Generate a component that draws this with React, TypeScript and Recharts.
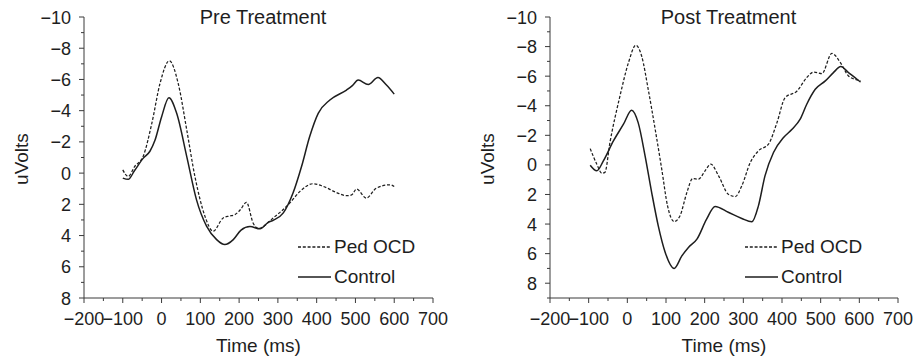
import React from 'react';
import { LineChart, Line, XAxis, YAxis, Legend } from 'recharts';

// Pre treatment (time in ms, amplitude in uV, negative plotted upward)
const preOcdTime = [-100, -86, -70, -47, -25, -4, 20, 43, 65, 86, 112, 133, 159, 175, 189, 203, 219, 236, 250, 288, 331, 357, 391, 417, 451, 477, 490, 503, 528, 554, 589, 600];
const preOcdVolts = [-0.21, 0.21, -0.4, -1.1, -3.2, -5.74, -7.19, -5.74, -2.76, 0.21, 2.77, 3.72, 2.87, 2.75, 2.66, 2.35, 1.87, 3.19, 3.55, 2.87, 1.91, 1.17, 0.68, 0.85, 1.24, 1.45, 1.4, 1.02, 1.6, 0.96, 0.75, 0.86];
const preControlTime = [-100, -86, -70, -47, -30, -17, 0, 19, 39, 65, 90, 116, 142, 163, 185, 205, 228, 254, 275, 288, 314, 339, 361, 382, 404, 434, 477, 492, 507, 533, 558, 580, 600];
const preControlVolts = [0.32, 0.4, -0.15, -0.96, -1.4, -2.1, -3.6, -4.83, -3.83, -1.06, 1.7, 3.4, 4.26, 4.58, 4.26, 3.65, 3.42, 3.57, 3.15, 3.02, 2.55, 1.28, -0.42, -2.34, -3.83, -4.68, -5.32, -5.6, -5.96, -5.68, -6.13, -5.64, -5.06];

// Post treatment
const postOcdTime = [-96, -79, -66, -58, -45, -19, 3, 22, 37, 54, 72, 89, 104, 121, 136, 154, 169, 184, 201, 216, 236, 261, 279, 296, 318, 339, 365, 387, 408, 439, 464, 482, 503, 529, 551, 572, 589, 603];
const postOcdVolts = [-1.1, -0.05, 0.56, 0.51, -1.51, -4.66, -6.92, -8.09, -7.36, -5.11, -2.41, 0.29, 2.77, 3.83, 3.45, 1.87, 0.92, 0.97, 0.4, -0.05, 0.74, 1.98, 2.14, 1.42, -0.16, -0.95, -1.4, -2.86, -4.55, -5.0, -5.9, -6.28, -6.17, -7.54, -6.92, -6.01, -5.79, -5.7];
const postControlTime = [-96, -79, -62, -36, -10, 11, 28, 46, 63, 80, 98, 121, 141, 158, 180, 205, 227, 261, 296, 322, 339, 356, 378, 404, 426, 447, 464, 486, 512, 533, 552, 572, 594, 603];
const postControlVolts = [0.02, 0.4, -0.27, -1.62, -2.75, -3.7, -2.86, -0.6, 1.87, 4.12, 5.92, 7.0, 6.15, 5.58, 5.02, 3.67, 2.81, 3.2, 3.62, 3.85, 2.77, 0.74, -0.84, -1.85, -2.41, -3.09, -4.1, -5.11, -5.68, -6.24, -6.65, -6.24, -5.79, -5.6];

const xTicks = [-200, -150, -100, -50, 0, 50, 100, 150, 200, 250, 300, 350, 400, 450, 500, 550, 600, 650, 700];
const preYTicks = [-10, -9, -8, -7, -6, -5, -4, -3, -2, -1, 0, 1, 2, 3, 4, 5, 6, 7, 8];
const postYTicks = [-10, -9, -8, -7, -6, -5, -4, -3, -2, -1, 0, 1, 2, 3, 4, 5, 6, 7, 8, 9];

const seriesNames = ['Ped OCD', 'Control'];

const FONT = "'Liberation Sans', Arial, Helvetica, sans-serif";
const NUM_FONT = "'Liberation Sans Narrow', 'Arial Narrow', 'Liberation Sans', Arial, sans-serif";
const INK = '#1e1e1e';
const AXIS = '#3a3a3a';
const DASH = '3 1.8';
const H = 361;

const zip = (t: number[], v: number[]) => t.map((x, i) => ({ t: x, v: v[i] }));
const signed = (n: number) => (n < 0 ? `\u2212${-n}` : `${n}`);

function YTick({ x, y, payload }: any) {
  const v = payload.value;
  const major = v % 2 === 0;
  return (
    <g>
      <line x1={x - (major ? 5 : 3)} x2={x} y1={y} y2={y} stroke={AXIS} />
      {major && (
        <text x={x - 13} y={y + 6.5} textAnchor="end" fontFamily={NUM_FONT} fontSize={18} fill={INK}>
          {signed(v)}
        </text>
      )}
    </g>
  );
}

function XTick({ x, y, payload }: any) {
  const v = payload.value;
  const major = v % 100 === 0;
  return (
    <g>
      <line x1={x} x2={x} y1={y} y2={y + (major ? 5 : 3)} stroke={AXIS} />
      {major && (
        <text x={x} y={y + 27} textAnchor="middle" fontFamily={NUM_FONT} fontSize={18} fill={INK}>
          {signed(v)}
        </text>
      )}
    </g>
  );
}

function XLabel({ cx }: any) {
  return (
    <text x={cx} y={352} textAnchor="middle" fontFamily={FONT} fontSize={19} fill={INK}>
      Time (ms)
    </text>
  );
}

function YLabel({ bx }: any) {
  return (
    <text x={bx} y={159} transform={`rotate(-90, ${bx}, 159)`} textAnchor="middle" fontFamily={FONT} fontSize={19} fill={INK}>
      uVolts
    </text>
  );
}

function LegendBox() {
  return (
    <div style={{ fontFamily: FONT, fontSize: 19, color: INK }}>
      {seriesNames.map((name, i) => (
        <div key={name} style={{ display: 'flex', alignItems: 'center', height: 30 }}>
          <svg width={33} height={4}>
            <line x1={0} x2={33} y1={2} y2={2} stroke={INK} strokeWidth={1.3} strokeDasharray={i === 0 ? DASH : undefined} />
          </svg>
          <span style={{ marginLeft: 3, lineHeight: '22px' }}>{name}</span>
        </div>
      ))}
    </div>
  );
}

interface PanelProps {
  title: string;
  ocd: { t: number; v: number }[];
  control: { t: number; v: number }[];
  yMax: number;
  yTicks: number[];
  width: number;
  yAxisWidth: number;
  marginRight: number;
  legendLeft: number;
}

function Panel({ title, ocd, control, yMax, yTicks, width, yAxisWidth, marginRight, legendLeft }: PanelProps) {
  const plotCenter = (yAxisWidth + width - marginRight) / 2;
  return (
    <div style={{ position: 'relative', width, height: H }}>
      <div
        style={{
          position: 'absolute',
          top: 7,
          left: plotCenter + 4.5 - 150,
          width: 300,
          textAlign: 'center',
          fontFamily: FONT,
          fontSize: 20,
          lineHeight: '20px',
          color: INK,
        }}
      >
        {title}
      </div>
      <LineChart width={width} height={H} margin={{ top: 17, right: marginRight, bottom: 0, left: 0 }}>
        <XAxis
          type="number"
          dataKey="t"
          domain={[-200, 700]}
          ticks={xTicks}
          interval={0}
          allowDataOverflow
          height={63}
          tickLine={false}
          tickSize={0}
          tickMargin={0}
          tick={<XTick />}
          axisLine={{ stroke: AXIS }}
          label={<XLabel cx={plotCenter} />}
        />
        <YAxis
          type="number"
          dataKey="v"
          domain={[-10, yMax]}
          reversed
          ticks={yTicks}
          interval={0}
          allowDataOverflow
          width={yAxisWidth}
          tickLine={false}
          tickSize={0}
          tickMargin={0}
          tick={<YTick />}
          axisLine={{ stroke: AXIS }}
          label={<YLabel bx={yAxisWidth - 56} />}
        />
        <Line data={ocd} dataKey="v" name="Ped OCD" type="monotone" stroke={INK} strokeWidth={1.25} strokeDasharray={DASH} dot={false} activeDot={false} isAnimationActive={false} />
        <Line data={control} dataKey="v" name="Control" type="monotone" stroke={INK} strokeWidth={1.5} dot={false} activeDot={false} isAnimationActive={false} />
        <Legend
          layout="horizontal"
          verticalAlign="middle"
          align="center"
          content={<LegendBox />}
          wrapperStyle={{ left: legendLeft, top: 232, width: 'auto', height: 'auto' }}
        />
      </LineChart>
    </div>
  );
}

export default function App() {
  return (
    <div style={{ position: 'absolute', left: 0, top: 0, width: 913, height: H, background: '#fff', display: 'flex' }}>
      <Panel
        title="Pre Treatment"
        ocd={zip(preOcdTime, preOcdVolts)}
        control={zip(preControlTime, preControlVolts)}
        yMax={8}
        yTicks={preYTicks}
        width={456}
        yAxisWidth={84}
        marginRight={23}
        legendLeft={298}
      />
      <Panel
        title="Post Treatment"
        ocd={zip(postOcdTime, postOcdVolts)}
        control={zip(postControlTime, postControlVolts)}
        yMax={9}
        yTicks={postYTicks}
        width={457}
        yAxisWidth={94}
        marginRight={15}
        legendLeft={289}
      />
    </div>
  );
}
